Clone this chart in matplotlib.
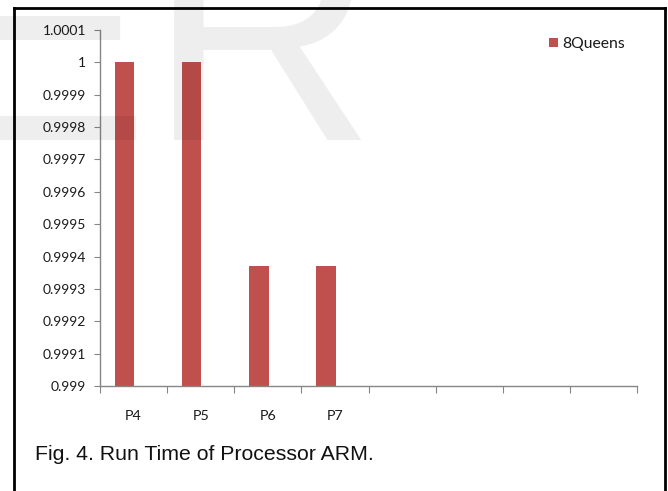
import matplotlib.pyplot as plt
from matplotlib.lines import Line2D
from matplotlib.ticker import FixedLocator, FuncFormatter

# Processor run times for the 8Queens benchmark
processors = ['P4', 'P5', 'P6', 'P7', '', '', '', '']
run_time = [1.0, 1.0, 0.99937, 0.99937]
y_ticks = [0.999, 0.9991, 0.9992, 0.9993, 0.9994, 0.9995,
           0.9996, 0.9997, 0.9998, 0.9999, 1.0, 1.0001]

bar_color = '#C0504D'
axis_color = '#868686'
label_color = '#1a1a1a'

fig = plt.figure(figsize=(6.68, 4.91), dpi=100)
ax = fig.add_axes([100 / 668, 1 - 386 / 491, 537 / 668, 356 / 491])

n = len(processors)
xs = list(range(len(run_time)))
ax.bar([x - 0.134 for x in xs], run_time, width=0.29, color=bar_color,
       label='8Queens', zorder=2)

ax.set_xlim(-0.5, n - 0.5)
ax.set_ylim(y_ticks[0], y_ticks[-1])

# category borders as major ticks, names on minor ticks
ax.xaxis.set_major_locator(FixedLocator([i - 0.5 for i in range(n + 1)]))
ax.xaxis.set_minor_locator(FixedLocator(list(range(n))))
ax.set_xticklabels([], minor=False)
ax.set_xticklabels(processors, minor=True)
ax.tick_params(axis='x', which='major', length=5, color=axis_color, direction='out')
ax.tick_params(axis='x', which='minor', length=0, pad=17, labelsize=10.3,
               labelcolor=label_color)

ax.yaxis.set_major_locator(FixedLocator(y_ticks))
ax.yaxis.set_major_formatter(FuncFormatter(
    lambda v, pos: f'{v:.4f}'.rstrip('0').rstrip('.')))
ax.tick_params(axis='y', length=4, color=axis_color, pad=6, labelsize=10,
               labelcolor=label_color)

for lab in ax.get_xticklabels(minor=True) + ax.get_yticklabels():
    lab.set_family('Lato')

for side in ['top', 'right']:
    ax.spines[side].set_visible(False)
for side in ['left', 'bottom']:
    ax.spines[side].set_color(axis_color)
    ax.spines[side].set_linewidth(1.0)

leg = ax.legend(loc='upper left', bbox_to_anchor=(549 / 668, 1 - 37 / 491),
                bbox_transform=fig.transFigure, frameon=False,
                handlelength=0.55, handleheight=0.55, handletextpad=0.3,
                borderpad=0, borderaxespad=0,
                prop={'family': 'Lato', 'size': 11.3})
for t in leg.get_texts():
    t.set_color(label_color)

fig.text(35 / 668, 1 - 455 / 491, 'Fig. 4. Run Time of Processor ARM.',
         family='Liberation Sans', fontsize=15.3, color='#111111', va='center')

# page frame around the figure
frame = dict(color='black', linewidth=2, transform=fig.transFigure)
fig.add_artist(Line2D([13.5 / 668, 665 / 668], [1 - 8 / 491, 1 - 8 / 491], **frame))
fig.add_artist(Line2D([13.5 / 668, 13.5 / 668], [1 - 8 / 491, -0.1], **frame))
fig.add_artist(Line2D([665 / 668, 665 / 668], [1 - 8 / 491, -0.1], **frame))

# faint journal watermark
fig.text(-62 / 668, 1 - 140 / 491, 'ER', family='Liberation Sans', fontsize=227,
         color='black', alpha=0.065, va='baseline', ha='left', zorder=10)

fig.savefig('out.png', dpi=100)
